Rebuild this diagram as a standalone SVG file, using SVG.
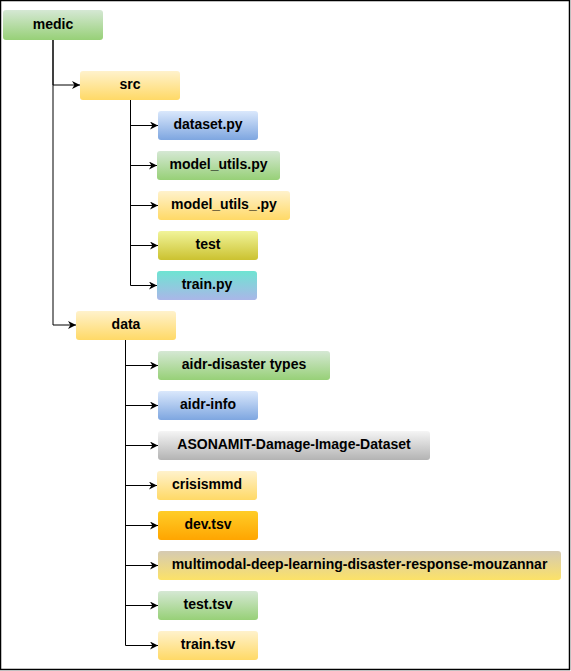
<svg xmlns="http://www.w3.org/2000/svg" width="571" height="671" viewBox="0 0 571 671">
<style>
.n{stroke:none}
.t{font-family:"Liberation Sans",Arial,sans-serif;font-size:14px;font-weight:bold;fill:#000;text-anchor:middle;dominant-baseline:central}
.e{fill:none;stroke:#000;stroke-width:1}
</style>
<defs>
<linearGradient id="gGreen" x1="0" y1="0" x2="0" y2="1"><stop offset="0" stop-color="#d5e8d4"/><stop offset="1" stop-color="#97d077"/></linearGradient>
<linearGradient id="gYellow" x1="0" y1="0" x2="0" y2="1"><stop offset="0" stop-color="#fff2cc"/><stop offset="1" stop-color="#ffd966"/></linearGradient>
<linearGradient id="gBlue" x1="0" y1="0" x2="0" y2="1"><stop offset="0" stop-color="#dae8fc"/><stop offset="1" stop-color="#7ea6e0"/></linearGradient>
<linearGradient id="gGray" x1="0" y1="0" x2="0" y2="1"><stop offset="0" stop-color="#f5f5f5"/><stop offset="1" stop-color="#b3b3b3"/></linearGradient>
<linearGradient id="gOrange" x1="0" y1="0" x2="0" y2="1"><stop offset="0" stop-color="#ffcd28"/><stop offset="1" stop-color="#ffa500"/></linearGradient>
<linearGradient id="gOlive" x1="0" y1="0" x2="0" y2="1"><stop offset="0" stop-color="#f1f49a"/><stop offset="1" stop-color="#cbc230"/></linearGradient>
<linearGradient id="gTeal" x1="0" y1="0" x2="0" y2="1"><stop offset="0" stop-color="#6ee4d2"/><stop offset="1" stop-color="#aab6e8"/></linearGradient>
<linearGradient id="gTan" x1="0" y1="0" x2="0" y2="1"><stop offset="0" stop-color="#d5cab2"/><stop offset="1" stop-color="#fce268"/></linearGradient>
<marker id="arr" viewBox="0 0 10 10" refX="10" refY="5" markerWidth="9" markerHeight="8" markerUnits="userSpaceOnUse" orient="auto">
<path d="M0,0 L10,5 L0,10 L3,5 Z" fill="#000"/>
</marker>
</defs>
<rect x="0.5" y="0.5" width="569" height="669" fill="#fff" stroke="#000" stroke-width="1.5"/>
<g id="connectors">
<path class="e" d="M53,40 V85 H80" marker-end="url(#arr)"/>
<path class="e" d="M53,40 V325 H76" marker-end="url(#arr)"/>
<path class="e" d="M130.5,100 V125.5 H158" marker-end="url(#arr)"/>
<path class="e" d="M130.5,100 V165.5 H157" marker-end="url(#arr)"/>
<path class="e" d="M130.5,100 V205.5 H158" marker-end="url(#arr)"/>
<path class="e" d="M130.5,100 V245.5 H158" marker-end="url(#arr)"/>
<path class="e" d="M130.5,100 V285.5 H157" marker-end="url(#arr)"/>
<path class="e" d="M125.5,340 V365.5 H158" marker-end="url(#arr)"/>
<path class="e" d="M125.5,340 V405.5 H158" marker-end="url(#arr)"/>
<path class="e" d="M125.5,340 V445.5 H158" marker-end="url(#arr)"/>
<path class="e" d="M125.5,340 V485.5 H157" marker-end="url(#arr)"/>
<path class="e" d="M125.5,340 V525.5 H158" marker-end="url(#arr)"/>
<path class="e" d="M125.5,340 V565.5 H158" marker-end="url(#arr)"/>
<path class="e" d="M125.5,340 V605.5 H158" marker-end="url(#arr)"/>
<path class="e" d="M125.5,340 V645.5 H158" marker-end="url(#arr)"/>
</g>
<g id="medic"><rect class="n" x="3" y="10" width="100" height="30" rx="3" fill="url(#gGreen)"/><text class="t" x="53" y="24">medic</text></g>
<g id="src"><rect class="n" x="80" y="71" width="100" height="29" rx="3" fill="url(#gYellow)"/><text class="t" x="130" y="84">src</text></g>
<g id="dataset_py"><rect class="n" x="158" y="111" width="100" height="29" rx="3" fill="url(#gBlue)"/><text class="t" x="208" y="124">dataset.py</text></g>
<g id="model_utils_py"><rect class="n" x="157" y="151" width="123" height="29" rx="3" fill="url(#gGreen)"/><text class="t" x="218.5" y="164">model_utils.py</text></g>
<g id="model_utils__py"><rect class="n" x="158" y="191" width="132" height="29" rx="3" fill="url(#gYellow)"/><text class="t" x="224" y="204">model_utils_.py</text></g>
<g id="test"><rect class="n" x="158" y="231" width="100" height="29" rx="3" fill="url(#gOlive)"/><text class="t" x="208" y="244">test</text></g>
<g id="train_py"><rect class="n" x="157" y="271" width="100" height="29" rx="3" fill="url(#gTeal)"/><text class="t" x="207" y="284">train.py</text></g>
<g id="data"><rect class="n" x="76" y="311" width="100" height="29" rx="3" fill="url(#gYellow)"/><text class="t" x="126" y="324">data</text></g>
<g id="aidr_disaster_types"><rect class="n" x="158" y="351" width="172" height="29" rx="3" fill="url(#gGreen)"/><text class="t" x="244" y="364">aidr-disaster types</text></g>
<g id="aidr_info"><rect class="n" x="158" y="391" width="100" height="29" rx="3" fill="url(#gBlue)"/><text class="t" x="208" y="404">aidr-info</text></g>
<g id="asonamit"><rect class="n" x="158" y="431" width="272" height="29" rx="3" fill="url(#gGray)"/><text class="t" x="294" y="444">ASONAMIT-Damage-Image-Dataset</text></g>
<g id="crisismmd"><rect class="n" x="157" y="471" width="100" height="29" rx="3" fill="url(#gYellow)"/><text class="t" x="207" y="484">crisismmd</text></g>
<g id="dev_tsv"><rect class="n" x="158" y="511" width="100" height="29" rx="3" fill="url(#gOrange)"/><text class="t" x="208" y="524">dev.tsv</text></g>
<g id="multimodal"><rect class="n" x="158" y="551" width="403" height="29" rx="3" fill="url(#gTan)"/><text class="t" x="359.5" y="564">multimodal-deep-learning-disaster-response-mouzannar</text></g>
<g id="test_tsv"><rect class="n" x="158" y="591" width="100" height="29" rx="3" fill="url(#gGreen)"/><text class="t" x="208" y="604">test.tsv</text></g>
<g id="train_tsv"><rect class="n" x="158" y="631" width="100" height="29" rx="3" fill="url(#gYellow)"/><text class="t" x="208" y="644">train.tsv</text></g>
</svg>
